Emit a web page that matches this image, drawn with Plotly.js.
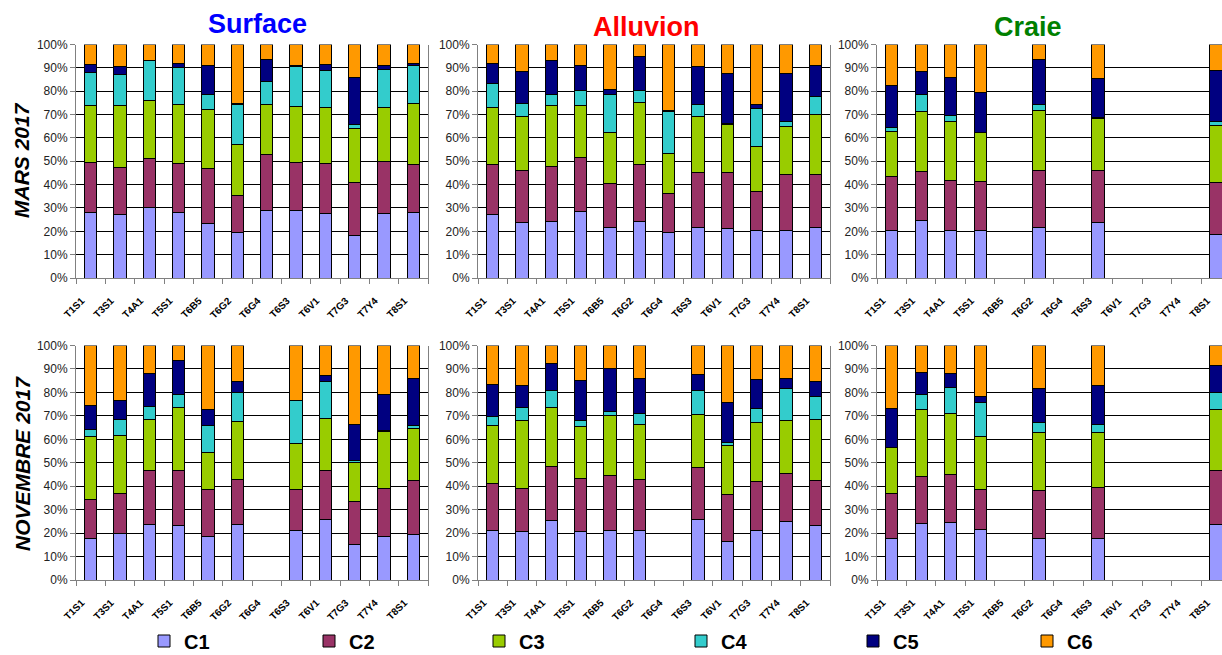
<!DOCTYPE html>
<html>
<head>
<meta charset="utf-8">
<script src="https://cdn.plot.ly/plotly-3.0.1.min.js"></script>
<style>
  html, body { margin: 0; padding: 0; background: #fff; }
  #chart { width: 1222px; height: 655px; }
</style>
</head>
<body>
<div id="chart"></div>
<script>
// ---- data ----
const categories = ['T1S1','T3S1','T4A1','T5S1','T6B5','T6G2','T6G4','T6S3','T6V1','T7G3','T7Y4','T8S1'];
const seriesNames = ['C1','C2','C3','C4','C5','C6'];
const seriesColors = ['#9999FF','#993366','#99CC00','#33CCCC','#000080','#FF9900'];
const panelTitles = ['Surface','Alluvion','Craie'];
const rowTitles = ['MARS 2017','NOVEMBRE 2017'];

// rows: C1..C6 ; columns follow categories (percent of each bar)
const surfaceMars = [
  [28, 27, 30, 28, 23.5, 19.5, 28.7, 28.8, 27.5, 18, 27.8, 28],
  [21.5, 20.5, 21, 21, 23.2, 15.8, 24.3, 20.7, 21.5, 23, 21.9, 20.7],
  [24.5, 26.3, 25, 25.3, 25.3, 21.7, 21.3, 23.8, 24, 23, 23.3, 26],
  [14, 13.5, 17, 15.7, 6.7, 17.3, 9.7, 17.2, 16, 1.7, 16.5, 16.1],
  [3.5, 3.2, 0.3, 1.7, 12.3, 0.4, 9.5, 0.5, 2.3, 20.3, 1.5, 1.2],
  [8.5, 9.5, 6.7, 8.3, 9, 25.3, 6.5, 9, 8.7, 14, 9, 8]
];
const alluvionMars = [
  [27.1, 23.7, 24.3, 28.4, 21.7, 24.1, 19.5, 21.8, 21.1, 20.3, 20.5, 21.8],
  [21.7, 22.5, 23.6, 23.1, 18.7, 24.4, 16.5, 23.3, 24.1, 16.9, 23.9, 22.6],
  [24.1, 23.1, 25.9, 22.5, 22.1, 26.5, 17.4, 24.2, 20.4, 19.3, 20.5, 25.6],
  [10.6, 5.4, 4.8, 6.3, 16, 5.3, 17.9, 5.2, 0.4, 16.3, 2.1, 7.7],
  [8.2, 13.9, 14.4, 10.7, 2.4, 14.7, 0.3, 15.9, 21.4, 1.5, 20.7, 13.3],
  [8.3, 11.4, 7, 9, 19.1, 5, 28.4, 9.6, 12.6, 25.7, 12.3, 9]
];
const craieMars = [
  [20.3, 24.5, 20.3, 20.3, null, 21.8, null, 23.8, null, null, null, 18.5],
  [23.2, 21, 21.5, 21.1, null, 24.3, null, 22.1, null, null, null, 22.4],
  [19.1, 25.7, 25.4, 20.8, null, 25.7, null, 22.6, null, null, null, 24.6],
  [1.9, 7.4, 2.4, 0.3, null, 2.5, null, 0.1, null, null, null, 1.4],
  [18, 9.7, 16.1, 17, null, 19.3, null, 17, null, null, null, 21.8],
  [17.5, 11.7, 14.3, 20.5, null, 6.4, null, 14.4, null, null, null, 11.3]
];
const surfaceNov = [
  [17.7, 19.7, 23.8, 23.2, 18.4, 23.5, null, 21.2, 25.9, 15.1, 18.5, 19.2],
  [16.5, 17.3, 22.9, 23.7, 20.1, 19.5, null, 17.4, 20.7, 18.4, 20.4, 23.4],
  [26.9, 24.7, 21.8, 26.5, 15.9, 24.8, null, 19.5, 22.3, 16.6, 24.6, 21.8],
  [3.1, 6.7, 5.4, 5.5, 11.6, 12, null, 18.4, 15.9, 1, 0.3, 1.7],
  [10.3, 8.2, 14.1, 14.5, 6.8, 4.7, null, 0, 2.2, 15.3, 15.4, 19.7],
  [25.5, 23.4, 12, 6.6, 27.2, 15.5, null, 23.5, 13, 33.6, 20.8, 14.2]
];
const alluvionNov = [
  [21.2, 20.7, 25.5, 20.7, 21.1, 20.9, null, 26, 16.4, 20.9, 24.9, 23.3],
  [19.8, 18.2, 22.7, 22.6, 23.3, 22.1, null, 21.9, 20.1, 21, 20.6, 19.3],
  [24.8, 29, 25.2, 22, 25.6, 23.5, null, 22.8, 20.8, 25.1, 22.7, 25.9],
  [3.8, 5.7, 7.2, 2.9, 1.9, 4.6, null, 10.1, 1.3, 6.1, 13.6, 9.9],
  [13.7, 9.3, 11.9, 16.7, 18.1, 14.9, null, 7, 17.1, 12.5, 4.3, 6.3],
  [16.7, 17.1, 7.5, 15.1, 10, 14, null, 12.2, 24.3, 14.4, 13.9, 15.3]
];
const craieNov = [
  [17.5, 23.9, 24.6, 21.5, null, 17.9, null, 17.5, null, null, null, 23.5],
  [19.4, 20.1, 20.6, 17.2, null, 20.1, null, 22.1, null, null, null, 23.1],
  [19.7, 28.5, 25.6, 22.4, null, 24.8, null, 23.5, null, null, null, 26.3],
  [0.1, 6.6, 11.4, 14.8, null, 4.2, null, 3.3, null, null, null, 7.2],
  [16.4, 9.2, 5.8, 2.3, null, 14.8, null, 16.6, null, null, null, 11.5],
  [26.9, 11.7, 12, 21.8, null, 18.2, null, 17, null, null, null, 8.4]
];

const panels = [surfaceMars, alluvionMars, craieMars, surfaceNov, alluvionNov, craieNov];

// ---- layout geometry (pixels) ----
const W = 1222, H = 655;
const colPx = [[76, 428], [478, 830], [877, 1222]];
const rowPx = [[44.5, 278], [345.5, 580]];
const legendEntryWidths = [120, 125, 157, 127, 129, 60];
const FONT = 'Liberation Sans, Arial, sans-serif';

const traces = [];
panels.forEach((panel, p) => {
  const ax = p === 0 ? '' : String(p + 1);
  panel.forEach((vals, s) => {
    traces.push({
      type: 'bar',
      x: categories,
      y: vals,
      name: seriesNames[s],
      xaxis: 'x' + ax,
      yaxis: 'y' + ax,
      marker: { color: seriesColors[s], line: { color: '#000', width: 1 } },
      showlegend: p === 0,
      legendwidth: legendEntryWidths[s],
      legendgroup: seriesNames[s],
      hoverinfo: 'x+y+name'
    });
  });
});

const layout = {
  width: W, height: H,
  margin: { l: 0, r: 0, t: 0, b: 0, autoexpand: false },
  paper_bgcolor: '#fff', plot_bgcolor: '#fff',
  barmode: 'stack',
  bargap: 0.58,
  font: { family: FONT, color: '#000' },
  showlegend: true,
  legend: {
    orientation: 'h',
    x: 144 / W, xanchor: 'left',
    y: 1 - 641 / H, yanchor: 'middle',
    entrywidthmode: 'pixels',
    font: { family: FONT, size: 20, weight: 'bold', color: '#000' },
    traceorder: 'normal',
    bgcolor: 'rgba(0,0,0,0)'
  },
  annotations: [],
  shapes: []
};

for (let p = 0; p < 6; p++) {
  const ax = p === 0 ? '' : String(p + 1);
  const col = p % 3, row = Math.floor(p / 3);
  const xd = [colPx[col][0] / W, colPx[col][1] / W];
  const yd = [1 - rowPx[row][1] / H, 1 - rowPx[row][0] / H];
  layout['xaxis' + ax] = {
    domain: xd,
    anchor: 'y' + ax,
    type: 'category',
    categoryorder: 'array',
    categoryarray: categories,
    range: col === 2 ? [-0.5, 11.2] : [-0.5, 11.5],
    fixedrange: true,
    automargin: false,
    showline: true, linecolor: '#808080', linewidth: 1,
    ticks: 'outside', tickson: 'boundaries', ticklen: 5, tickcolor: '#808080', tickwidth: 1,
    tickangle: -45,
    ticklabelstandoff: 12,
    ticklabelshift: -9,
    tickfont: { family: FONT, size: 10, weight: 'bold', color: '#000' },
    showgrid: false, zeroline: false
  };
  layout['yaxis' + ax] = {
    domain: yd,
    anchor: 'x' + ax,
    range: [0, 100],
    fixedrange: true,
    automargin: false,
    dtick: 10, tick0: 0,
    ticksuffix: '%',
    showline: true, linecolor: '#808080', linewidth: 1,
    mirror: col === 2 ? false : true,
    ticks: 'outside', ticklen: 5, tickcolor: '#808080', tickwidth: 1,
    tickfont: { family: FONT, size: 12, color: '#222' },
    showgrid: true, gridcolor: '#000', gridwidth: 1,
    zeroline: false
  };
}

// column titles
const titleColors = ['#0000FF', '#FF0000', '#008000'];
const titleX = [257, 646.5, 1028];
const titleY = [24, 26.5, 26.5];
panelTitles.forEach((t, i) => {
  layout.annotations.push({
    text: t, xref: 'paper', yref: 'paper',
    x: titleX[i] / W, y: 1 - titleY[i] / H,
    xanchor: 'center', yanchor: 'middle', showarrow: false,
    font: { family: FONT, size: 27, weight: 'bold', color: titleColors[i] }
  });
});
// row titles
const rowLabelY = [160, 464];
rowTitles.forEach((t, i) => {
  layout.annotations.push({
    text: t, xref: 'paper', yref: 'paper',
    x: 22 / W, y: 1 - rowLabelY[i] / H,
    xanchor: 'center', yanchor: 'middle', showarrow: false,
    textangle: -90,
    font: { family: FONT, size: 21, weight: 'bold', style: 'italic', color: '#000' }
  });
});

Plotly.newPlot('chart', traces, layout, { displayModeBar: false, staticPlot: true });
</script>
</body>
</html>
